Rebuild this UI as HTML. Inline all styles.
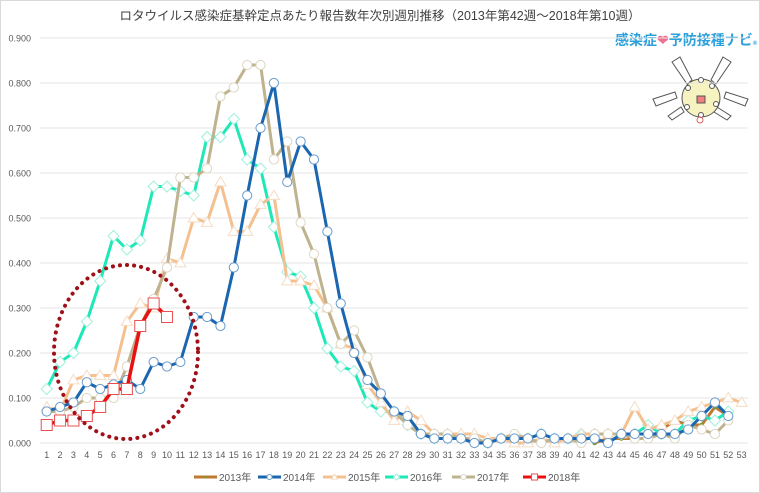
<!DOCTYPE html>
<html><head><meta charset="utf-8">
<style>
html,body{margin:0;padding:0;background:#fff;}
svg{display:block;font-family:"Liberation Sans","Noto Sans CJK JP",sans-serif;}
</style></head>
<body>
<svg id="c" width="760" height="493" viewBox="0 0 760 493" xmlns="http://www.w3.org/2000/svg">
<rect x="0.5" y="0.5" width="759" height="492" fill="#fff" stroke="#d9d9d9"/>
<text x="380" y="20" font-size="12.5" fill="#404040" text-anchor="middle">ロタウイルス感染症基幹定点あたり報告数年次別週別推移（2013年第42週～2018年第10週）</text>
<text x="615" y="45" font-size="14" font-weight="bold" fill="#2aa0dc">感染症<tspan fill="#f07090">❤</tspan>予防接種ナビ<tspan font-size="6">®</tspan></text>
<g id="mascot" stroke="#555" stroke-width="1" fill="#fff">
<path d="M672 62 L680 57 L692 80 L687 84Z"/>
<path d="M723 57 L731 62 L716 84 L711 80Z"/>
<path d="M653 99 L675 92 L677 98 L656 106Z"/>
<path d="M726 92 L748 99 L745 106 L724 98Z"/>
<path d="M668 116 L681 107 L684 112 L672 120Z"/>
<path d="M717 107 L731 116 L727 120 L714 112Z"/>
<circle cx="701" cy="98" r="19" fill="#f7f3c0"/>
<circle cx="688" cy="88" r="2.5"/><circle cx="712" cy="86" r="2.5"/><circle cx="716" cy="104" r="2.5"/><circle cx="687" cy="107" r="2.5"/><circle cx="701" cy="115" r="2.5"/><circle cx="701" cy="80" r="2.5"/>
<rect x="697" y="96" width="8" height="7" fill="#f08080"/>
<circle cx="700" cy="120" r="3" fill="none" stroke="#e06060"/>
</g>
<g id="g"></g>
</svg>
<script>
const g=document.getElementById('g');
const X=w=>46.7+(w-1)*13.365, Y=v=>443-v*450;
let s='';
for(let i=0;i<=9;i++){const y=Y(i/10);
 s+=`<line x1="40" x2="748" y1="${y}" y2="${y}" stroke="#e6e6e6" stroke-width="1"/>`;
 s+=`<text x="31" y="${y+3.5}" font-size="9" fill="#595959" text-anchor="end">${(i/10).toFixed(3)}</text>`;}
for(let w=1;w<=53;w++) s+=`<text x="${X(w)}" y="458" font-size="9" fill="#595959" text-anchor="middle">${w}</text>`;
const D={
s13:{c:'#c07a30',mc:'#7a9a30',m:'dot',st:42,d:[0.00,0.01,0.01,0.01,0.01,0.03,0.05,0.04,0.04,0.08,0.06]},
s16:{c:'#1ee8b8',mc:'#9ff0dc',m:'dia',st:1,d:[0.12,0.18,0.20,0.27,0.36,0.46,0.43,0.45,0.57,0.57,0.56,0.55,0.68,0.68,0.72,0.63,0.61,0.48,0.38,0.37,0.30,0.21,0.17,0.16,0.09,0.07,0.07,0.04,0.02,0.01,0.01,0.01,0.01,0.00,0.01,0.01,0.01,0.02,0.01,0.01,0.02,0.02,0.02,0.02,0.02,0.04,0.02,0.02,0.05,0.06,0.05,0.07]},
s15:{c:'#f5c090',mc:'#f5dcc4',m:'tri',st:1,d:[0.08,0.07,0.14,0.15,0.15,0.15,0.27,0.31,0.30,0.41,0.40,0.50,0.49,0.58,0.47,0.47,0.53,0.55,0.36,0.36,0.35,0.30,0.22,0.21,0.13,0.09,0.05,0.07,0.05,0.02,0.02,0.02,0.02,0.01,0.01,0.00,0.00,0.01,0.00,0.01,0.02,0.02,0.02,0.02,0.08,0.03,0.04,0.05,0.07,0.08,0.09,0.10,0.09]},
s17:{c:'#bfb38f',mc:'#ddd6c2',m:'cir',st:1,d:[0.07,0.07,0.08,0.10,0.10,0.10,0.17,0.26,0.32,0.39,0.59,0.59,0.61,0.77,0.79,0.84,0.84,0.63,0.67,0.49,0.42,0.30,0.22,0.25,0.19,0.11,0.07,0.04,0.02,0.02,0.02,0.01,0.01,0.00,0.01,0.02,0.01,0.00,0.01,0.01,0.00,0.02,0.02,0.02,0.01,0.01,0.02,0.01,0.04,0.03,0.02,0.05]},
s14:{c:'#1a66b0',mc:'#6a9ccc',m:'cir',st:1,d:[0.07,0.08,0.09,0.135,0.12,0.13,0.14,0.12,0.18,0.17,0.18,0.28,0.28,0.26,0.39,0.55,0.70,0.80,0.58,0.67,0.63,0.47,0.31,0.20,0.14,0.11,0.07,0.06,0.02,0.01,0.01,0.01,0.00,0.00,0.01,0.01,0.01,0.02,0.01,0.01,0.01,0.01,0.00,0.02,0.02,0.02,0.02,0.02,0.03,0.06,0.09,0.06]},
s18:{c:'#e81010',mc:'#e85050',m:'sq',st:1,w:3.5,d:[0.04,0.05,0.05,0.06,0.08,0.12,0.12,0.26,0.31,0.28]}
};
function mk(m,x,y,c,k){k=k||1;
 if(m==='dot')return `<circle cx="${x}" cy="${y}" r="${2.3*k}" fill="${c}"/>`;
 if(m==='cir')return `<circle cx="${x}" cy="${y}" r="${4.6*k}" fill="#fff" stroke="${c}" stroke-width="1"/>`;
 if(m==='dia'){const r=5.5*k;return `<path d="M${x} ${y-r}L${x+r} ${y}L${x} ${y+r}L${x-r} ${y}Z" fill="#fff" stroke="${c}" stroke-width="1"/>`;}
 if(m==='tri'){const r=5.5*k;return `<path d="M${x} ${y-r}L${x+r} ${y+r*0.7}L${x-r} ${y+r*0.7}Z" fill="#fff" stroke="${c}" stroke-width="1"/>`;}
 if(m==='sq'){const r=5.5*k;return `<rect x="${x-r}" y="${y-r}" width="${2*r}" height="${2*r}" fill="#fff" stroke="${c}" stroke-width="1"/>`;}
}
for(const k of ['s13','s16','s15','s17','s14','s18']){const o=D[k];
 const pts=o.d.map((v,i)=>[X(o.st+i),Y(v)]);
 s+=`<polyline points="${pts.map(p=>p.join(',')).join(' ')}" fill="none" stroke="${o.c}" stroke-width="${o.w||3}" stroke-linejoin="round"/>`;
 pts.forEach(p=>s+=mk(o.m,p[0],p[1],o.mc));}
s+=`<ellipse cx="126" cy="352" rx="72" ry="87" fill="none" stroke="#a01018" stroke-width="4" stroke-dasharray="0.1 7" stroke-linecap="round"/>`;
const L=[['2013年','s13',219],['2014年','s14',283],['2015年','s15',348],['2016年','s16',410],['2017年','s17',477],['2018年','s18',548]];
L.forEach(([t,k,x])=>{const o=D[k];
 s+=`<line x1="${x-25}" x2="${x-2}" y1="477" y2="477" stroke="${o.c}" stroke-width="3"/>`;
 s+=mk(o.m,x-13.5,477,o.mc,0.55);
 s+=`<text x="${x}" y="481" font-size="10" fill="#595959">${t}</text>`;});
g.innerHTML=s;
</script>
</body></html>
